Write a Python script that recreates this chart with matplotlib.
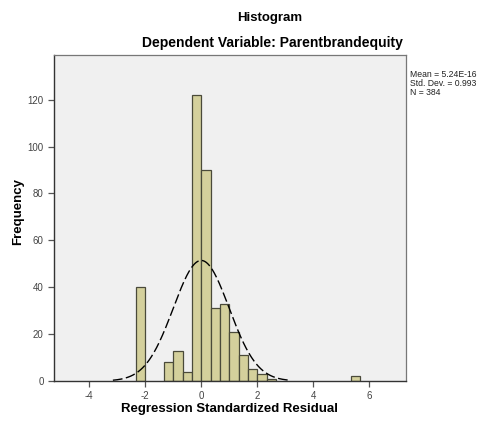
import numpy as np
import matplotlib.pyplot as plt

# Histogram data (bin width 1/3)
bin_left = [-7, -4, -3, -2, -1, 0, 1, 2, 3, 4, 5, 6, 7, 16]   # in thirds
counts = [40, 8, 13, 4, 122, 90, 31, 33, 21, 11, 5, 3, 1, 2]
mean_val = 5.24e-16
std_val = 0.993
n_val = 384
xticks = [-4, -2, 0, 2, 4, 6]
yticks = [0, 20, 40, 60, 80, 100, 120]

plt.rcParams['font.family'] = ['Liberation Sans', 'DejaVu Sans']
plt.rcParams['axes.unicode_minus'] = False

fig = plt.figure(figsize=(4.85, 4.21), dpi=100)
ax = fig.add_axes([0.1113, 0.095, 0.7257, 0.774])
ax.set_facecolor('#f0f0f0')

width = 1 / 3
lefts = np.array(bin_left) / 3
ax.bar(lefts, counts, width=width, align='edge', color='#d4d09c',
       edgecolor='#4a4a3a', linewidth=0.9)

# Normal curve scaled to the histogram
xs = np.linspace(-3.15, 3.15, 400)
ys = n_val * width / (std_val * np.sqrt(2 * np.pi)) * \
    np.exp(-0.5 * ((xs - mean_val) / std_val) ** 2)
ax.plot(xs, ys, color='black', linewidth=1.0, dashes=(7, 2.5))

ax.set_xlim(-5.25, 7.3)
ax.set_ylim(0, 139)
ax.set_xticks(xticks)
ax.set_yticks(yticks)
ax.tick_params(axis='both', labelsize=7, colors='#555555', length=4,
               width=0.9, direction='out')
ax.tick_params(axis='both', labelcolor='#444444')

for side in ['top', 'right']:
    ax.spines[side].set_color('#777777')
    ax.spines[side].set_linewidth(0.9)
for side in ['left', 'bottom']:
    ax.spines[side].set_color('#333333')
    ax.spines[side].set_linewidth(1.0)

ax.set_xlabel('Regression Standardized Residual', fontsize=9.5,
              fontweight='bold', labelpad=1)
ax.set_ylabel('Frequency', fontsize=9.5, fontweight='bold')
ax.yaxis.set_label_coords(-0.085, 0.52)

fig.text(0.557, 0.958, 'Histogram', ha='center', va='center',
         fontsize=9.5, fontweight='bold')
fig.text(0.561, 0.897, 'Dependent Variable: Parentbrandequity',
         ha='center', va='center', fontsize=10, fontweight='bold')

stats = 'Mean = 5.24E-16\nStd. Dev. = 0.993\nN = 384'
fig.text(0.845, 0.833, stats, ha='left', va='top', fontsize=6.2,
         linespacing=0.95, color='#222222')

fig.savefig('out.png', dpi=100, facecolor='white')
